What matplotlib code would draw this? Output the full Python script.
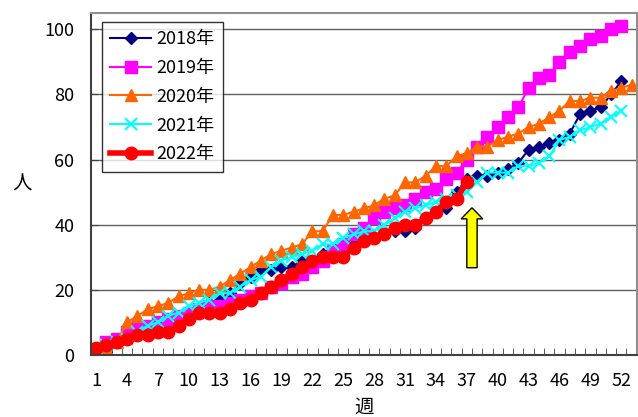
import matplotlib.pyplot as plt
from matplotlib.patches import FancyArrow
from matplotlib.ticker import MultipleLocator

plt.rcParams['font.family'] = ['Noto Sans CJK JP', 'DejaVu Sans']

# cumulative counts per week
y2018 = [1, 1, 4, 5, 6, 8, 9, 10, 11, 12, 14, 16, 17, 19, 22, 24, 26, 26, 27, 27,
         29, 29, 31, 33, 34, 34, 35, 36, 37, 38, 38, 39, 42, 44, 45, 50, 54, 55, 55, 56,
         57, 59, 63, 64, 65, 66, 68, 74, 75, 76, 80, 84]
y2019 = [1, 4, 5, 7, 8, 9, 10, 11, 12, 13, 14, 15, 15, 16, 17, 18, 19, 21, 22, 24,
         25, 27, 29, 32, 34, 37, 39, 42, 44, 45, 46, 48, 50, 51, 54, 56, 60, 64, 67, 70,
         73, 76, 82, 85, 86, 90, 93, 95, 97, 98, 100, 101]
y2020 = [0, 2, 4, 10, 12, 14, 15, 16, 18, 19, 20, 20, 21, 23, 25, 27, 29, 31, 32, 33,
         34, 38, 38, 43, 43, 44, 45, 46, 48, 49, 53, 53, 55, 58, 58, 61, 62, 64, 64, 66,
         67, 68, 70, 71, 73, 75, 78, 78, 79, 79, 81, 82, 83]
y2021 = [2, 3, 4, 5, 7, 9, 10, 12, 13, 15, 16, 17, 19, 19, 21, 23, 24, 27, 29, 30,
         31, 32, 34, 34, 36, 37, 38, 38, 40, 42, 44, 45, 46, 47, 48, 49, 50, 53, 56, 56,
         56, 58, 58, 59, 61, 66, 67, 69, 70, 71, 73, 75]
y2022 = [2, 3, 4, 5, 6, 6, 7, 7, 9, 11, 13, 13, 13, 14, 16, 17, 19, 21, 23, 25,
         27, 29, 30, 30, 30, 33, 35, 36, 37, 39, 40, 40, 42, 44, 47, 48, 53]

weeks = list(range(1, 54))
tick_weeks = list(range(1, 53, 3))

fig = plt.figure(figsize=(6.38, 4.17), dpi=100)
ax = fig.add_axes([0.1426, 0.1487, 0.8554, 0.8201])

ax.plot(weeks[:len(y2018)], y2018, color='#000080', marker='D', markersize=6, lw=1.5, label='2018年')
ax.plot(weeks[:len(y2019)], y2019, color='#FF00FF', marker='s', markersize=8, lw=1.5, label='2019年')
ax.plot(weeks[:len(y2020)], y2020, color='#FF6600', marker='^', markersize=9, lw=1.5, label='2020年')
ax.plot(weeks[:len(y2021)], y2021, color='#00FFFF', marker='x', markersize=8, mew=1.5, lw=1.5, label='2021年')
ax.plot(weeks[:len(y2022)], y2022, color='#FF0000', marker='o', markersize=9, lw=4, label='2022年')

# yellow arrow at week 37
ax.add_patch(FancyArrow(37.5, 26.8, 0, 18.4, width=1.0, head_width=2.1, head_length=3.4,
                        length_includes_head=True, facecolor='#FFFF00', edgecolor='black',
                        lw=1, zorder=6))

ax.set_xlim(0.5, 53.5)
ax.set_ylim(0, 105)
ax.set_xticks(tick_weeks)
ax.set_xticklabels([str(w) for w in tick_weeks])
ax.xaxis.set_minor_locator(MultipleLocator(1, offset=0.5))
ax.tick_params(axis='x', which='major', length=0, pad=12, labelsize=13)
ax.tick_params(axis='x', which='minor', direction='in', length=5, color='#404040')
ax.set_yticks([0, 20, 40, 60, 80, 100])
ax.tick_params(axis='y', direction='in', length=5, pad=12, labelsize=13, color='#404040')
ax.grid(axis='y', color='#606060', lw=1)
ax.set_axisbelow(True)

for side in ['left', 'bottom']:
    ax.spines[side].set_color('#404040')
    ax.spines[side].set_linewidth(1.5)
for side in ['top', 'right']:
    ax.spines[side].set_color('#909090')
    ax.spines[side].set_linewidth(1.5)

ax.set_ylabel('人', rotation=0, fontsize=14, labelpad=16, va='center')
ax.set_xlabel('週', fontsize=14, labelpad=5)

leg = ax.legend(loc='upper left', bbox_to_anchor=(0.0196, 0.9737), borderaxespad=0,
                fontsize=13, frameon=True, fancybox=False, edgecolor='black',
                labelspacing=0.6, handlelength=2.3, handletextpad=0.3, borderpad=0.45)
leg.get_frame().set_linewidth(1)

fig.savefig('out.png', dpi=100)
